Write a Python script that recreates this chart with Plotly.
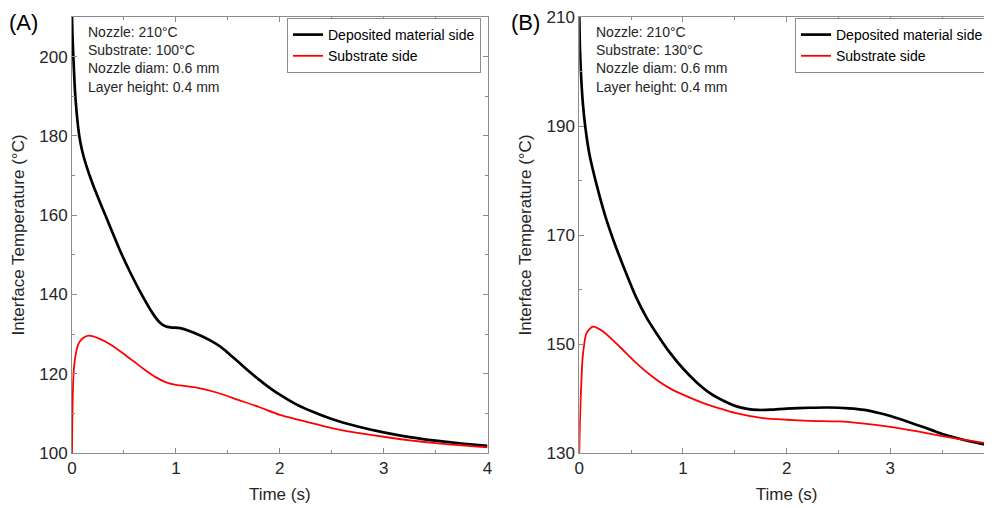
import plotly.graph_objects as go

# ---------------- data ----------------
# Panel A: nozzle 210 C, substrate 100 C
tA_dep = [0, 0.005, 0.013, 0.032, 0.07, 0.1, 0.14, 0.2, 0.27, 0.37, 0.46, 0.56, 0.67, 0.78,
          0.85, 0.9, 0.95, 1.04, 1.13, 1.23, 1.33, 1.43, 1.5, 1.6, 1.7, 1.8, 1.9,
          2.0, 2.15, 2.3, 2.5, 2.75, 3.0, 3.25, 3.5, 3.75, 4.0]
vA_dep = [210, 205, 200, 190, 180, 176, 172.3, 167.8, 163.2, 156.9, 151.2, 145.6, 140, 135.1,
          132.8, 132, 131.7, 131.5, 130.8, 129.7, 128.4, 126.8, 125.3, 123.0, 120.7, 118.5, 116.5,
          114.7, 112.4, 110.6, 108.6, 106.7, 105.2, 104.0, 103.1, 102.4, 101.8]

tA_sub = [0, 0.003, 0.008, 0.015, 0.03, 0.06, 0.1, 0.16, 0.25, 0.37, 0.5, 0.6, 0.7,
          0.8, 0.9, 1.0, 1.2, 1.4, 1.6, 1.8, 2.0, 2.25, 2.5, 2.75, 3.0, 3.25, 3.5, 3.75, 4.0]
vA_sub = [100, 108, 115, 120, 124, 127.4, 128.9, 129.6, 129, 127.4, 125, 123, 121,
          119.2, 117.9, 117.2, 116.5, 115.2, 113.4, 111.6, 109.6, 107.9, 106.3, 105.1, 104.1,
          103.2, 102.5, 101.9, 101.4]

# Panel B: nozzle 210 C, substrate 130 C
tB_dep = [0, 0.005, 0.015, 0.035, 0.06, 0.1, 0.17, 0.25, 0.33, 0.42, 0.55, 0.65, 0.75,
          0.87, 1.0, 1.13, 1.26, 1.4, 1.51, 1.62, 1.72, 1.85, 2.0, 2.22, 2.4, 2.6, 2.75,
          2.9, 3.0, 3.1, 3.25, 3.4, 3.5, 3.65, 3.75, 3.9, 4.0]
vB_dep = [210, 205, 200, 194, 189.5, 184.6, 179, 173.5, 169, 164.5, 158.5, 154.8, 151.8,
          148.5, 145.5, 143, 141, 139.5, 138.6, 138.1, 137.9, 137.95, 138.15, 138.3, 138.35,
          138.2, 137.9, 137.3, 136.8, 136.2, 135.2, 134.2, 133.5, 132.7, 132.2, 131.6, 131.2]

tB_sub = [0, 0.005, 0.013, 0.033, 0.07, 0.13, 0.23, 0.39, 0.55, 0.7, 0.87, 1.0, 1.19,
          1.35, 1.51, 1.77, 2.0, 2.22, 2.5, 2.75, 3.0, 3.25, 3.5, 3.75, 4.0]
vB_sub = [130, 135, 139.7, 147.7, 152, 153.2, 152.3, 149.5, 146.5, 144.1, 141.9, 140.7, 139.2,
          138.2, 137.3, 136.4, 136.1, 135.9, 135.8, 135.4, 134.8, 134.0, 133.1, 132.3, 131.6]

series_names = ["Deposited material side", "Substrate side"]
panel_labels = ["(A)", "(B)"]
info_A = ["Nozzle: 210°C", "Substrate: 100°C", "Nozzle diam: 0.6 mm", "Layer height: 0.4 mm"]
info_B = ["Nozzle: 210°C", "Substrate: 130°C", "Nozzle diam: 0.6 mm", "Layer height: 0.4 mm"]
x_title = "Time (s)"
y_title = "Interface Temperature (°C)"

# ---------------- figure ----------------
W, H = 992, 508
OFF = 8  # page body margin in the browser
FONT = "Liberation Sans, Arial, sans-serif"
TXT = "#262626"
AX = "#8c8c8c"

fig = go.Figure()
fig.add_trace(go.Scatter(x=tA_dep, y=vA_dep, mode="lines", name=series_names[0],
                         line=dict(color="black", width=2.7, shape="spline", smoothing=0.6),
                         xaxis="x", yaxis="y", legend="legend"))
fig.add_trace(go.Scatter(x=tA_sub, y=vA_sub, mode="lines", name=series_names[1],
                         line=dict(color="#ff0000", width=1.8, shape="spline", smoothing=0.6),
                         xaxis="x", yaxis="y", legend="legend"))
fig.add_trace(go.Scatter(x=tB_dep, y=vB_dep, mode="lines", name=series_names[0],
                         line=dict(color="black", width=2.7, shape="spline", smoothing=0.6),
                         xaxis="x2", yaxis="y2", legend="legend2"))
fig.add_trace(go.Scatter(x=tB_sub, y=vB_sub, mode="lines", name=series_names[1],
                         line=dict(color="#ff0000", width=1.8, shape="spline", smoothing=0.6),
                         xaxis="x2", yaxis="y2", legend="legend2"))

def px_x(p):
    return (p - OFF) / W

def px_y(p):
    return (H - (p - OFF)) / H

common = dict(showline=True, linecolor=AX, linewidth=1, mirror="ticks", ticks="inside",
              ticklen=5, tickcolor=AX, showgrid=False, zeroline=False, automargin=False,
              ticklabeloverflow="allow",
              tickfont=dict(family=FONT, size=17, color=TXT))
xcommon = dict(common, range=[0, 4], dtick=1, tick0=0,
               minor=dict(ticks="inside", dtick=0.5, ticklen=3, tickcolor=AX),
               title=dict(text=x_title, font=dict(family=FONT, size=17, color=TXT), standoff=10))

fig.update_layout(
    width=W, height=H,
    margin=dict(l=0, r=0, t=0, b=0, autoexpand=False),
    paper_bgcolor="white", plot_bgcolor="white",
    font=dict(family=FONT, color=TXT),
    xaxis=dict(xcommon, domain=[px_x(72), px_x(487.5)], anchor="y"),
    xaxis2=dict(xcommon, domain=[px_x(579.3), px_x(994)], anchor="y2"),
    yaxis=dict(common, range=[100, 210], dtick=20, tick0=100, domain=[px_y(453), px_y(17)],
               anchor="x",
               minor=dict(ticks="inside", dtick=10, ticklen=3, tickcolor=AX),
               title=dict(text=y_title, font=dict(family=FONT, size=17, color=TXT), standoff=10)),
    yaxis2=dict(common, range=[130, 210], dtick=20, tick0=130, domain=[px_y(453), px_y(17)],
                anchor="x2",
                minor=dict(ticks="inside", dtick=10, ticklen=3, tickcolor=AX),
                title=dict(text=y_title, font=dict(family=FONT, size=17, color=TXT), standoff=10)),
    legend=dict(x=px_x(481), xanchor="right", y=px_y(18), yanchor="top",
                bgcolor="white", bordercolor=AX, borderwidth=1,
                font=dict(family=FONT, size=14, color="black"), tracegroupgap=0, itemwidth=30),
    legend2=dict(x=px_x(989), xanchor="right", y=px_y(18), yanchor="top",
                 bgcolor="white", bordercolor=AX, borderwidth=1,
                 font=dict(family=FONT, size=14, color="black"), tracegroupgap=0, itemwidth=30),
    showlegend=True,
)

annos = [
    dict(text=panel_labels[0], x=px_x(7), y=px_y(8), xanchor="left", yanchor="top"),
    dict(text=panel_labels[1], x=px_x(509), y=px_y(8), xanchor="left", yanchor="top"),
]
for a in annos:
    a.update(xref="paper", yref="paper", showarrow=False,
             font=dict(family=FONT, size=22, color="black"))
fig.add_annotation(xref="paper", yref="paper", x=px_x(86), y=px_y(22), xanchor="left", yanchor="top",
                   align="left", showarrow=False, text="<br>".join(info_A),
                   font=dict(family=FONT, size=14, color=TXT))
fig.add_annotation(xref="paper", yref="paper", x=px_x(594), y=px_y(22), xanchor="left", yanchor="top",
                   align="left", showarrow=False, text="<br>".join(info_B),
                   font=dict(family=FONT, size=14, color=TXT))
for a in annos:
    fig.add_annotation(**a)

fig.write_html("out.html")
